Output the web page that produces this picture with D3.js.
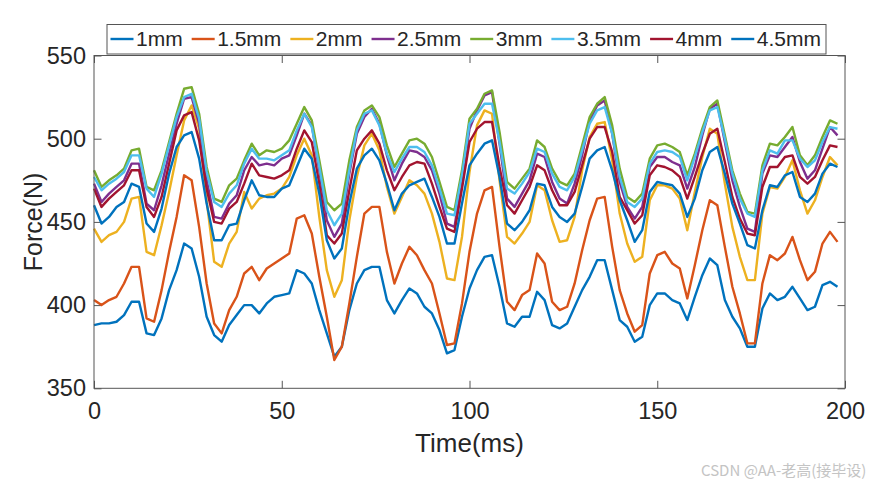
<!DOCTYPE html>
<html>
<head>
<meta charset="utf-8">
<script src="https://cdn.jsdelivr.net/npm/d3@7"></script>
<style>
  html, body { margin: 0; padding: 0; background: #fff; }
  svg { display: block; font-family: "Liberation Sans", Arial, sans-serif; }
</style>
</head>
<body>
<div id="chart"></div>
<script>
// sampled every 2 ms, t = 0 .. 198
const times = d3.range(0, 200, 2);

const labels = ["1mm", "1.5mm", "2mm", "2.5mm", "3mm", "3.5mm", "4mm", "4.5mm"];
const colors = ["#0072BD", "#D95319", "#EDB120", "#7E2F8E", "#77AC30", "#4DBEEE", "#A2142F", "#0072BD"];

const f1 = [388,389,389,390,394,402,402,383,382,392,409,421,437,434,417,393,382,378,388,394,400,400,395,401,405,
  406,407,421,419,413,397,383,369,375,397,413,421,423,423,403,395,403,410,407,399,395,385,371,373,393,
  410,421,429,430,411,389,387,393,393,408,403,388,386,389,399,409,417,427,427,409,391,387,378,381,400,
  407,407,403,401,391,405,418,428,424,403,393,386,375,375,398,407,403,405,411,404,397,399,412,414,411];
const f15 = [403,400,403,405,413,423,423,392,390,409,432,453,478,475,447,413,389,383,397,405,419,423,415,422,425,
  428,431,452,454,443,417,393,367,375,401,429,455,459,459,432,413,425,435,430,421,413,395,376,377,401,
  432,455,469,471,435,402,397,406,409,431,425,402,397,399,413,433,451,464,465,435,409,395,384,388,419,
  430,432,425,422,404,424,445,463,460,435,411,395,377,377,413,430,427,431,441,427,415,420,437,444,438];
const f2 = [446,438,442,444,450,464,465,432,430,448,468,490,511,520,506,463,426,423,437,444,468,458,464,466,467,
  470,477,490,500,490,453,421,405,415,451,477,496,503,493,471,455,465,475,472,467,455,438,416,415,441,
  480,508,517,515,475,441,437,443,450,472,469,451,438,439,453,481,501,509,510,487,455,437,426,429,463,
  472,472,470,464,445,468,489,506,503,473,447,429,415,415,455,471,470,477,487,469,455,463,477,489,484];
const f25 = [473,462,467,471,475,485,485,461,457,472,491,509,524,525,509,475,453,452,461,466,481,489,484,485,484,
  488,490,502,515,508,481,451,441,449,479,503,513,518,509,490,475,485,493,492,489,481,467,449,447,475,
  506,517,526,528,497,464,459,467,475,491,489,474,464,461,473,490,511,520,523,503,474,459,452,459,483,
  489,489,486,484,470,483,502,518,521,498,475,459,446,444,479,490,489,495,501,486,476,481,494,507,502];
const f3 = [481,471,475,478,482,493,494,471,469,481,498,515,530,531,515,483,464,462,472,476,487,497,490,493,492,
  494,499,509,519,511,487,462,457,461,487,507,517,520,513,496,483,491,499,500,497,489,474,459,457,481,
  512,518,527,529,504,474,470,476,482,499,495,482,474,472,479,496,513,521,525,508,482,465,462,467,488,
  496,497,495,492,478,491,506,519,523,502,481,467,456,455,484,497,496,501,507,490,484,490,501,511,509];
const f35 = [477,469,473,476,480,490,490,470,465,479,496,513,525,527,512,480,462,459,467,472,485,494,488,488,487,
  490,493,505,515,507,483,457,448,455,481,505,515,517,508,491,480,488,495,495,492,484,470,455,454,478,
  509,515,521,521,498,470,467,473,480,494,492,479,471,469,477,493,509,517,519,503,477,462,459,464,485,
  492,493,492,489,475,489,504,517,519,500,479,464,455,453,481,493,491,499,499,488,483,487,498,507,506];
const f4 = [470,459,464,468,472,481,481,459,453,465,485,505,514,516,499,470,450,449,458,462,473,485,478,477,476,
  478,481,494,505,498,473,442,437,443,469,493,500,505,497,481,469,477,484,486,485,473,459,446,444,470,
  498,506,510,510,483,460,455,463,471,484,481,469,460,460,468,484,500,507,507,492,465,457,449,454,478,
  484,483,481,477,464,477,491,503,506,486,465,452,443,442,471,483,483,489,490,477,473,477,487,496,495];
const f45 = [460,449,453,459,462,473,471,449,444,458,479,495,502,504,488,461,439,439,448,449,463,475,466,465,465,
  470,472,483,494,488,467,439,428,434,461,482,490,494,487,473,457,467,472,474,476,465,453,437,437,461,
  484,491,497,499,477,449,445,450,457,473,472,459,453,450,455,471,488,493,495,481,463,451,438,445,468,
  474,473,472,467,453,464,481,492,495,479,461,449,436,434,457,472,471,478,480,465,462,467,479,485,483];

const series = [f1, f15, f2, f25, f3, f35, f4, f45];
const xTicks = [0, 50, 100, 150, 200];
const yTicks = [350, 400, 450, 500, 550];

const W = 886, H = 484;
const margin = { top: 55.5, right: 41, bottom: 95.7, left: 94 };
const width = W - margin.left - margin.right;
const height = H - margin.top - margin.bottom;
const axisColor = "#555";
const textColor = "#262626";

const svg = d3.select("#chart").append("svg")
  .attr("width", W)
  .attr("height", H);

const g = svg.append("g")
  .attr("transform", `translate(${margin.left},${margin.top})`);

const x = d3.scaleLinear().domain([0, 200]).range([0, width]);
const y = d3.scaleLinear().domain([350, 550]).range([height, 0]);

// axes, MATLAB style: ticks inside on all four sides
function styleAxis(sel) {
  sel.select(".domain").remove();
  sel.selectAll(".tick line").attr("stroke", axisColor);
  sel.selectAll(".tick text")
    .attr("fill", textColor)
    .style("font-size", "23.5px");
}

g.append("g")
  .attr("transform", `translate(0,${height})`)
  .call(d3.axisBottom(x).tickValues(xTicks).tickSizeInner(-7.5).tickSizeOuter(0).tickPadding(14.5))
  .call(styleAxis);

g.append("g")
  .call(d3.axisTop(x).tickValues(xTicks).tickSizeInner(-7.5).tickSizeOuter(0).tickFormat(""))
  .call(styleAxis);

g.append("g")
  .call(d3.axisLeft(y).tickValues(yTicks).tickSizeInner(-7.5).tickSizeOuter(0).tickPadding(8))
  .call(styleAxis);

g.append("g")
  .attr("transform", `translate(${width},0)`)
  .call(d3.axisRight(y).tickValues(yTicks).tickSizeInner(-7.5).tickSizeOuter(0).tickFormat(""))
  .call(styleAxis);

// lines
const line = d3.line()
  .x((d, i) => x(times[i]))
  .y(d => y(d));

g.append("g")
  .selectAll("path")
  .data(series)
  .join("path")
  .attr("fill", "none")
  .attr("stroke", (d, i) => colors[i])
  .attr("stroke-width", 2.4)
  .attr("stroke-linejoin", "round")
  .attr("d", line);

// box
g.append("rect")
  .attr("width", width)
  .attr("height", height)
  .attr("fill", "none")
  .attr("stroke", axisColor)
  .attr("stroke-width", 1);

// axis labels
g.append("text")
  .attr("x", width / 2)
  .attr("y", height + 64)
  .attr("text-anchor", "middle")
  .attr("fill", textColor)
  .style("font-size", "26px")
  .text("Time(ms)");

g.append("text")
  .attr("transform", `translate(${33 - margin.left},${height / 2}) rotate(-90)`)
  .attr("text-anchor", "middle")
  .attr("dy", "0.35em")
  .attr("fill", textColor)
  .style("font-size", "25px")
  .text("Force(N)");

// legend, one row above the plot
const legend = svg.append("g");
legend.append("rect")
  .attr("x", 107).attr("y", 24.5)
  .attr("width", 719).attr("height", 29.5)
  .attr("fill", "#fff")
  .attr("stroke", axisColor)
  .attr("stroke-width", 1);

let lx = 110.5;
labels.forEach((name, i) => {
  const item = legend.append("g").attr("transform", `translate(${lx},39)`);
  item.append("line")
    .attr("x1", 0).attr("x2", 23)
    .attr("stroke", colors[i])
    .attr("stroke-width", 2.4);
  const t = item.append("text")
    .attr("x", 25.5)
    .attr("dy", "0.35em")
    .attr("fill", textColor)
    .style("font-size", "21px")
    .text(name);
  lx += 25.5 + t.node().getComputedTextLength() + 9;
});

// watermark
svg.append("text")
  .attr("x", 701)
  .attr("y", 476)
  .attr("fill", "#c4c4c4")
  .style("font-family", "'Noto Sans CJK SC', 'Noto Sans', sans-serif")
  .style("font-size", "15px")
  .text("CSDN @AA-老高(接毕设)");
</script>
</body>
</html>
